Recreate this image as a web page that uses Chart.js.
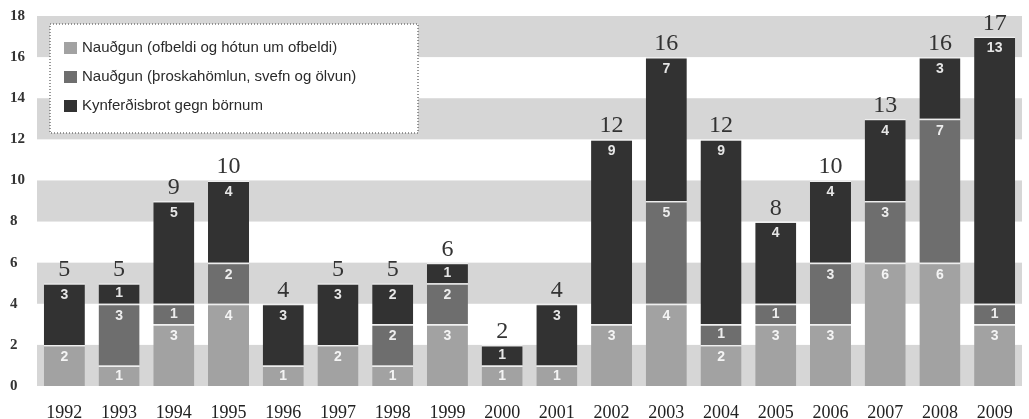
<!DOCTYPE html>
<html>
<head>
<meta charset="utf-8">
<script src="https://cdn.jsdelivr.net/npm/chart.js@4"></script>
<style>
  html, body { margin: 0; padding: 0; background: #fff; }
  #wrap { width: 1029px; height: 419px; position: relative; }
</style>
</head>
<body>
<div id="wrap"><canvas id="chart"></canvas></div>
<script>
// Values
const years = ['1992', '1993', '1994', '1995', '1996', '1997', '1998', '1999', '2000',
               '2001', '2002', '2003', '2004', '2005', '2006', '2007', '2008', '2009'];
const ofbeldi   = [2, 1, 3, 4, 1, 2, 1, 3, 1, 1, 3, 4, 2, 3, 3, 6, 6, 3];
const throska   = [0, 3, 1, 2, 0, 0, 2, 2, 0, 0, 0, 5, 1, 1, 3, 3, 7, 1];
const born      = [3, 1, 5, 4, 3, 3, 2, 1, 1, 3, 9, 7, 9, 4, 4, 4, 3, 13];
const totals    = [5, 5, 9, 10, 4, 5, 5, 6, 2, 4, 12, 16, 12, 8, 10, 13, 16, 17];
const yTicks    = [0, 2, 4, 6, 8, 10, 12, 14, 16, 18];
const bands     = [[0, 2], [4, 6], [8, 10], [12, 14], [16, 18]];

const seriesNames = [
  'Nauðgun (ofbeldi og hótun um ofbeldi)',
  'Nauðgun (þroskahömlun, svefn og ölvun)',
  'Kynferðisbrot gegn börnum'
];
const colors = ['#a2a2a2', '#6e6e6e', '#323232'];

// gray horizontal bands behind the bars
const bandPlugin = {
  id: 'bands',
  beforeDatasetsDraw(chart) {
    const { ctx, chartArea, scales } = chart;
    ctx.save();
    ctx.fillStyle = '#d6d6d6';
    bands.forEach(([lo, hi]) => {
      const yTop = scales.y.getPixelForValue(hi);
      const yBot = scales.y.getPixelForValue(lo);
      ctx.fillRect(chartArea.left, yTop, chartArea.right - chartArea.left, yBot - yTop);
    });
    ctx.restore();
  }
};

// segment values, totals and the boxed legend
const labelPlugin = {
  id: 'labels',
  afterDatasetsDraw(chart) {
    const { ctx } = chart;
    ctx.save();
    ctx.textAlign = 'center';
    ctx.textBaseline = 'middle';
    ctx.font = 'bold 14px "Liberation Sans"';
    ctx.fillStyle = 'rgba(255,255,255,0.88)';
    chart.data.datasets.forEach((ds, di) => {
      const meta = chart.getDatasetMeta(di);
      meta.data.forEach((bar, i) => {
        const v = ds.data[i];
        if (!v) return;
        const h = bar.base - bar.y;
        ctx.fillText(String(v), bar.x, bar.y + Math.min(12, h / 2));
      });
    });

    const top = chart.getDatasetMeta(chart.data.datasets.length - 1);
    ctx.font = '24px "Liberation Serif"';
    ctx.fillStyle = '#333';
    ctx.textBaseline = 'alphabetic';
    top.data.forEach((bar, i) => {
      ctx.fillText(String(totals[i]), bar.x, bar.y - 7);
    });

    // legend box
    const bx = 50, by = 24, bw = 368, bh = 109;
    ctx.fillStyle = '#fff';
    ctx.fillRect(bx, by, bw, bh);
    ctx.setLineDash([1, 2]);
    ctx.strokeStyle = '#777';
    ctx.lineWidth = 1.5;
    ctx.strokeRect(bx, by, bw, bh);
    ctx.setLineDash([]);
    ctx.textAlign = 'left';
    ctx.textBaseline = 'middle';
    ctx.font = '15px "Liberation Sans"';
    chart.data.datasets.forEach((ds, di) => {
      const y = 48 + di * 29;
      ctx.fillStyle = ds.backgroundColor;
      ctx.fillRect(64, y - 6, 13, 12);
      ctx.fillStyle = '#2a2a2a';
      ctx.fillText(ds.label, 82, y);
    });
    ctx.restore();
  }
};

new Chart(document.getElementById('chart'), {
  type: 'bar',
  data: {
    labels: years,
    datasets: [ofbeldi, throska, born].map((d, i) => ({
      label: seriesNames[i],
      data: d,
      backgroundColor: colors[i],
      borderColor: '#eeeeee',
      borderWidth: { top: 1.5, left: 0, right: 0, bottom: 0 },
      barPercentage: 0.75,
      categoryPercentage: 1
    }))
  },
  options: {
    responsive: true,
    maintainAspectRatio: false,
    animation: false,
    layout: { padding: { top: 16, right: 7, left: 10, bottom: 0 } },
    plugins: {
      legend: { display: false },
      tooltip: { enabled: false }
    },
    scales: {
      x: {
        stacked: true,
        grid: { display: false },
        border: { display: false },
        ticks: {
          color: '#222',
          padding: 8,
          font: { family: 'Liberation Serif', size: 18 }
        },
        afterFit: (s) => { s.height = 33; }
      },
      y: {
        stacked: true,
        min: 0,
        max: 18,
        grid: { display: false },
        border: { display: false },
        afterBuildTicks: (s) => { s.ticks = yTicks.map(v => ({ value: v })); },
        ticks: {
          color: '#333',
          crossAlign: 'far',
          padding: 6,
          font: { family: 'Liberation Serif', size: 15, weight: 'bold' }
        },
        afterFit: (s) => { s.width = 27; }
      }
    }
  },
  plugins: [bandPlugin, labelPlugin]
});
</script>
</body>
</html>
